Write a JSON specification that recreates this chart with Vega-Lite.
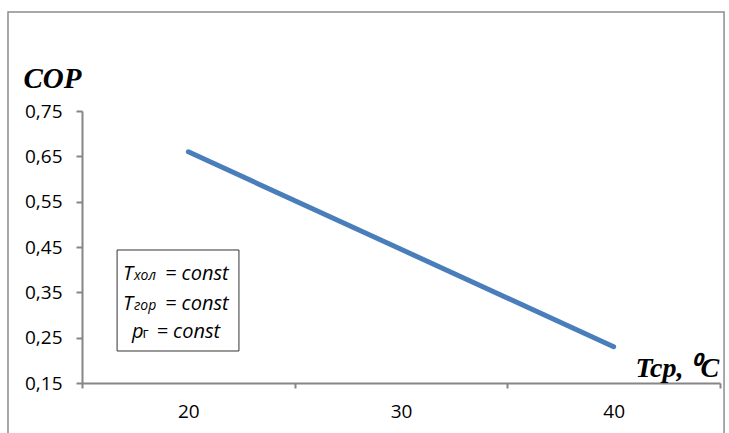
{
  "$schema": "https://vega.github.io/schema/vega-lite/v6.json",
  "autosize": "none",
  "width": 638,
  "height": 272,
  "padding": {"left": 82, "top": 111, "right": 9, "bottom": 50},
  "background": "white",
  "config": {"view": {"stroke": null}},
  "datasets": {
    "series": [
      {"t": 20, "cop": 0.66},
      {"t": 30, "cop": 0.445},
      {"t": 40, "cop": 0.23}
    ],
    "frame": [{"x1": 11.52, "x2": 45.19, "y1": 0.9684, "y2": -0.03}],
    "box": [{"x1": 16.65, "x2": 22.38, "y1": 0.4434, "y2": 0.2206}],
    "big": [
      {"x": 16.93, "y": 0.3772, "s": "T"},
      {"x": 18.9, "y": 0.3772, "s": "= const"},
      {"x": 16.93, "y": 0.311, "s": "T"},
      {"x": 18.9, "y": 0.311, "s": "= const"},
      {"x": 17.35, "y": 0.2493, "s": "p"},
      {"x": 18.5, "y": 0.2493, "s": "= const"}
    ],
    "small": [
      {"x": 17.44, "y": 0.3772, "s": "хол"},
      {"x": 17.44, "y": 0.311, "s": "гор"}
    ],
    "smallUpright": [
      {"x": 17.85, "y": 0.2493, "s": "г"}
    ]
  },
  "layer": [
    {
      "data": {"name": "frame"},
      "mark": {"type": "rect", "fill": null, "stroke": "#8c8c8c", "strokeWidth": 1.5, "clip": false},
      "encoding": {
        "x": {"field": "x1", "type": "quantitative", "scale": {"domain": [15, 45], "nice": false, "zero": false}},
        "x2": {"field": "x2"},
        "y": {"field": "y1", "type": "quantitative", "scale": {"domain": [0.15, 0.75], "nice": false, "zero": false}},
        "y2": {"field": "y2"}
      }
    },
    {
      "data": {"name": "series"},
      "mark": {"type": "line", "color": "#4a7ebb", "strokeWidth": 5, "strokeCap": "round"},
      "encoding": {
        "x": {
          "field": "t", "type": "quantitative",
          "scale": {"domain": [15, 45], "nice": false, "zero": false},
          "axis": {
            "values": [15, 20, 25, 30, 35, 40, 45],
            "labelExpr": "datum.value % 10 == 0 ? datum.value : ''",
            "tickOpacity": {"expr": "datum.value % 10 == 5 ? 1 : 0"},
            "grid": false,
            "domainColor": "#868686", "domainWidth": 2,
            "tickColor": "#868686", "tickWidth": 2, "tickSize": 5,
            "labelFont": "Open Sans", "labelFontSize": 19, "labelColor": "#000",
            "labelPadding": 14, "labelFlush": false,
            "title": "Tcp, ⁰C",
            "titleFont": "Liberation Serif", "titleFontSize": 28, "titleFontStyle": "italic", "titleFontWeight": "bold",
            "titleColor": "#000",
            "titleAnchor": null, "titleAlign": "left", "titleBaseline": "alphabetic",
            "titleX": 553, "titleY": -7
          }
        },
        "y": {
          "field": "cop", "type": "quantitative",
          "scale": {"domain": [0.15, 0.75], "nice": false, "zero": false},
          "axis": {
            "values": [0.15, 0.25, 0.35, 0.45, 0.55, 0.65, 0.75],
            "labelExpr": "replace(format(datum.value, '.2f'), '.', ',')",
            "grid": false,
            "domainColor": "#868686", "domainWidth": 2,
            "tickColor": "#868686", "tickWidth": 2, "tickSize": 6,
            "labelFont": "Open Sans", "labelFontSize": 19, "labelColor": "#000",
            "labelPadding": 14,
            "title": "COP",
            "titleFont": "Liberation Serif", "titleFontSize": 29, "titleFontStyle": "italic", "titleFontWeight": "bold",
            "titleColor": "#000",
            "titleAngle": 0, "titleAnchor": null, "titleAlign": "left", "titleBaseline": "alphabetic",
            "titleX": -59, "titleY": -24
          }
        }
      }
    },
    {
      "data": {"name": "box"},
      "mark": {"type": "rect", "fill": "white", "stroke": "#333", "strokeWidth": 1},
      "encoding": {
        "x": {"field": "x1", "type": "quantitative"},
        "x2": {"field": "x2"},
        "y": {"field": "y1", "type": "quantitative"},
        "y2": {"field": "y2"}
      }
    },
    {
      "data": {"name": "big"},
      "mark": {"type": "text", "align": "left", "baseline": "alphabetic", "font": "Open Sans", "fontSize": 20, "fontStyle": "italic", "color": "#000"},
      "encoding": {
        "x": {"field": "x", "type": "quantitative"},
        "y": {"field": "y", "type": "quantitative"},
        "text": {"field": "s"}
      }
    },
    {
      "data": {"name": "small"},
      "mark": {"type": "text", "align": "left", "baseline": "alphabetic", "font": "Open Sans", "fontSize": 14, "fontStyle": "italic", "color": "#000"},
      "encoding": {
        "x": {"field": "x", "type": "quantitative"},
        "y": {"field": "y", "type": "quantitative"},
        "text": {"field": "s"}
      }
    },
    {
      "data": {"name": "smallUpright"},
      "mark": {"type": "text", "align": "left", "baseline": "alphabetic", "font": "Open Sans", "fontSize": 14, "color": "#000"},
      "encoding": {
        "x": {"field": "x", "type": "quantitative"},
        "y": {"field": "y", "type": "quantitative"},
        "text": {"field": "s"}
      }
    }
  ]
}
